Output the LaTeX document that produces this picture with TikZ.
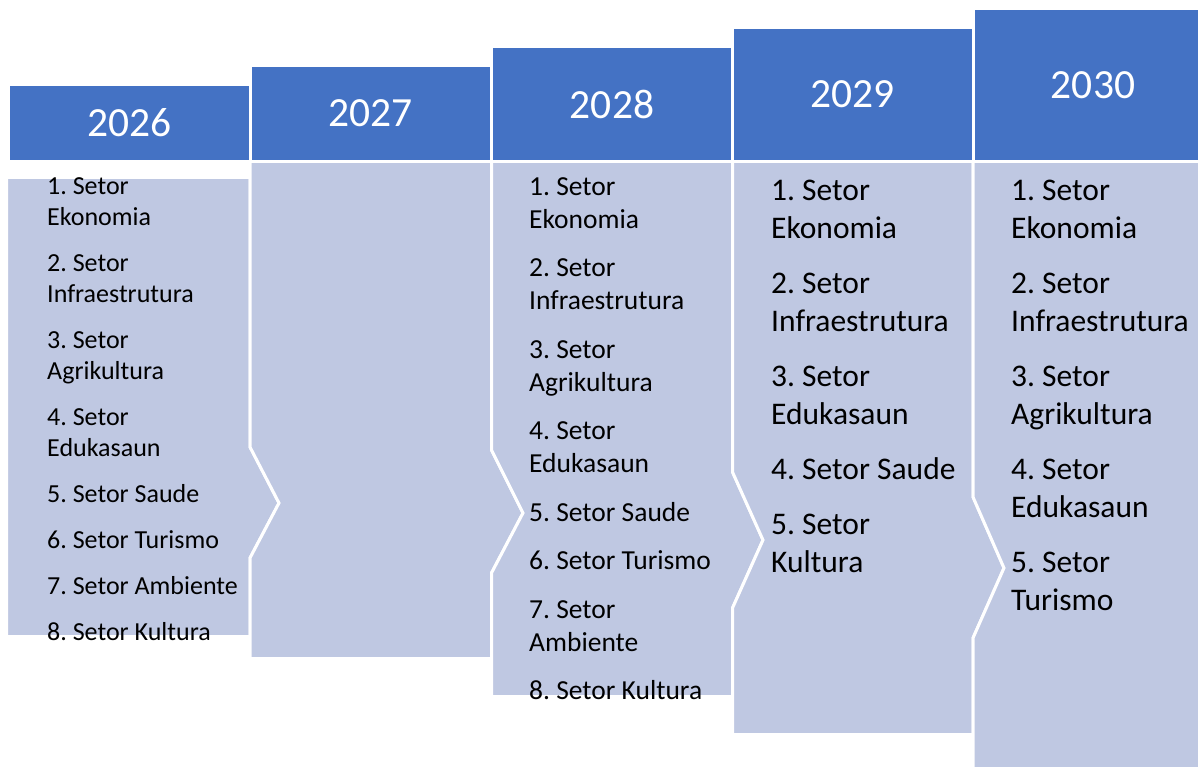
\documentclass[tikz,border=0pt]{standalone}
\usepackage{fontspec}
\setmainfont{Carlito}
\frenchspacing
\usetikzlibrary{positioning}
\definecolor{yearBlue}{RGB}{68,114,196}
\definecolor{bodyBlue}{RGB}{191,200,226}
\tikzset{
  yearbox/.style={rectangle, fill=yearBlue, draw=white, line width=3pt, text=white, inner sep=0pt,
    font=\fontsize{41.5}{50}\selectfont},
  bodyshape/.style={fill=bodyBlue, draw=white, line width=3pt, line join=miter},
%  smallList/.style={font=\fontsize{26}{31}\selectfont},
  sectorlist/.style={anchor=north west, inner sep=0pt, align=left}
}

\begin{document}
\begin{tikzpicture}[x=1pt, y=-1pt]
  \useasboundingbox (0,0) rectangle (1198,767);
  % chevron bodies
  \path[bodyshape] (6.5,177.5) -- (250,177.5) -- (250,447) -- (279,503) -- (250,558) -- (250,636.5) -- (6.5,636.5) -- cycle;
  \path[bodyshape] (250,161.5) -- (491.5,161.5) -- (491.5,450) -- (523,513) -- (491.5,573) -- (491.5,658.5)
    -- (250,658.5) -- (250,558) -- (279,503) -- (250,447) -- cycle;
  \path[bodyshape] (491.5,161.5) -- (732.5,161.5) -- (732.5,472) -- (763,540) -- (732.5,608) -- (732.5,696.5)
    -- (491.5,696.5) -- (491.5,573) -- (523,513) -- (491.5,450) -- cycle;
  \path[bodyshape] (732.5,161.5) -- (973,161.5) -- (973,497) -- (1004,568) -- (973,638) -- (973,734.5)
    -- (732.5,734.5) -- (732.5,608) -- (763,540) -- (732.5,472) -- cycle;
  \path[bodyshape] (973,161.5) -- (1213,161.5) -- (1213,775) -- (973,775) -- (973,638) -- (1004,568) -- (973,497) -- cycle;

  % year headers
  \node[yearbox, minimum width=241.5pt, minimum height=77pt] (h2026) at (129.25,123) {2026};
  \node[yearbox, minimum width=241.5pt, minimum height=96pt] (h2027) at (370.75,113.5) {2027};
  \node[yearbox, minimum width=241pt, minimum height=115pt] (h2028) at (612,104) {2028};
  \node[yearbox, minimum width=240.5pt, minimum height=134pt] (h2029) at (852.75,94.5) {2029};
  \node[yearbox, minimum width=240pt, minimum height=153pt] (h2030) at (1093,85) {2030};

  % sector lists
  \node[sectorlist, font=\fontsize{26}{31}\selectfont] (s2026) at (47,177.5)
    {1. Setor\\Ekonomia\\[15pt]2. Setor\\Infraestrutura\\[15pt]3. Setor\\Agrikultura\\[15pt]4. Setor\\Edukasaun\\[15pt]5. Setor Saude\\[15pt]6. Setor Turismo\\[15pt]7. Setor Ambiente\\[15pt]8. Setor Kultura};
  \node[sectorlist, font=\fontsize{27.5}{33}\selectfont] (s2028) at (529,177)
    {1. Setor\\Ekonomia\\[15.5pt]2. Setor\\Infraestrutura\\[15.5pt]3. Setor\\Agrikultura\\[15.5pt]4. Setor\\Edukasaun\\[15.5pt]5. Setor Saude\\[15.5pt]6. Setor Turismo\\[15.5pt]7. Setor\\Ambiente\\[15.5pt]8. Setor Kultura};
  \node[sectorlist, font=\fontsize{31.5}{38}\selectfont] (s2029) at (771,179.5)
    {1. Setor\\Ekonomia\\[17pt]2. Setor\\Infraestrutura\\[17pt]3. Setor\\Edukasaun\\[17pt]4. Setor Saude\\[17pt]5. Setor\\Kultura};
  \node[sectorlist, font=\fontsize{31.5}{38}\selectfont] (s2030) at (1011,179.5)
    {1. Setor\\Ekonomia\\[17pt]2. Setor\\Infraestrutura\\[17pt]3. Setor\\Agrikultura\\[17pt]4. Setor\\Edukasaun\\[17pt]5. Setor\\Turismo};
\end{tikzpicture}
\end{document}
